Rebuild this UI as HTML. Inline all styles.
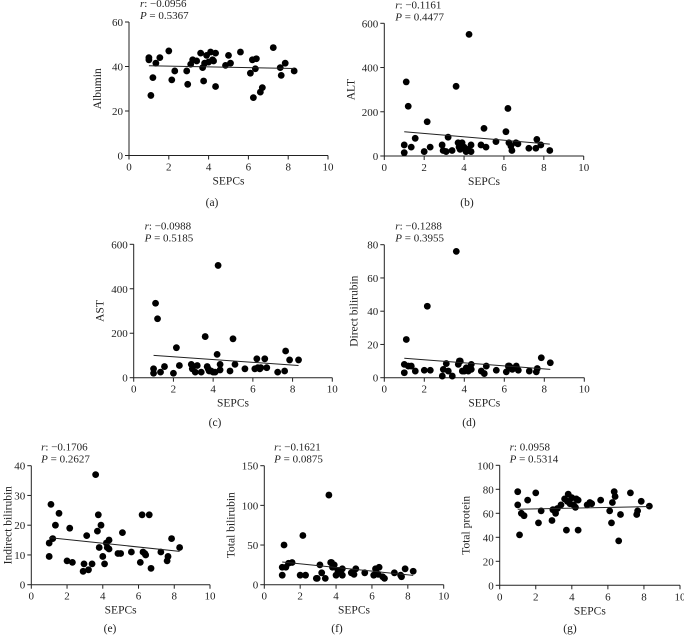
<!DOCTYPE html>
<html><head><meta charset="utf-8">
<style>
html,body{margin:0;padding:0;background:#fff;}
svg{display:block;font-family:"Liberation Serif",serif;}
</style></head>
<body>
<svg id="fig" width="684" height="636" viewBox="0 0 684 636" xmlns="http://www.w3.org/2000/svg"></svg>
<script>
const sepcs = [1.0,1.0,1.1,1.2,1.35,1.55,2.0,2.15,2.3,2.9,2.95,3.1,3.2,3.4,3.6,3.7,3.75,3.8,3.9,4.0,4.1,4.2,4.25,4.35,4.35,4.85,5.0,5.1,5.6,6.1,6.2,6.25,6.35,6.4,6.6,6.7,7.25,7.6,7.65,7.85,8.3];
const albumin = [44,43,27,35,41.5,44,47,34,38,38,32,41,43,42.5,46,39.5,33.5,41.5,45,42,46.5,43,42.5,46,31,40.5,45,41.5,46.5,37,43,26,39,43.5,28.5,30.5,48.5,39.5,36,41.5,38];
const alt = [50,15,335,225,40,80,20,155,40,50,25,20,85,25,315,60,40,30,60,40,20,30,550,50,20,50,125,40,65,110,215,60,45,25,60,55,35,35,75,50,25];
const ast = [40,20,335,265,25,50,20,135,55,60,40,25,55,25,185,50,40,30,30,25,25,105,505,60,35,30,175,60,40,40,85,45,40,45,85,45,25,30,120,80,80];
const directBili = [8,3,23,7,7,4,4.5,43,4.5,1,5,8.5,4,1,76,8,10,10,4,4,6,4,5,8,5,4,2.5,7,4.5,3.5,7,7,6,5,7,4.5,4,3.5,5.5,12,9];
const indirectBili = [14,9.5,27,15.5,20,24,8,19,7.5,4.5,7,16.5,5,7,37,18,23.5,12.5,20,9.5,7,14,12.5,15,12,10.5,10.5,17.5,11,7.5,23.5,11,10.5,10,23.5,5.5,11,8,9.5,15.5,12.5];
const totalBili = [22,12,50,22,27,28,12,62,12,8,8,25,15,8,113,28,28,22,25,12,18,18,15,20,12,15,13,20,15,12,20,15,13,22,10,8,15,12,10,20,17];
const totalProtein = [78,67,42,60,58,71,77,52,62,54,63,60,64,67,72,46,70,76,68,73,67,65,72,71,46,67,69,68,71,62,52,69,78,74,37,59,77,59,62,70,66];
const xTicks = [0,2,4,6,8,10];
const rLabels = ["\u22120.0956","\u22120.1161","\u22120.0988","\u22120.1288","\u22120.1706","\u22120.1621","0.0958"];
const pLabels = ["0.5367","0.4477","0.5185","0.3955","0.2627","0.0875","0.5314"];
const yTitles = ["Albumin","ALT","AST","Direct bilirubin","Indirect bilirubin","Total bilirubin","Total protein"];
const yTickSets = [[0,20,40,60],[0,200,400,600],[0,200,400,600],[0,20,40,60,80],[0,10,20,30,40],[0,50,100,150],[0,20,40,60,80,100]];
const series = [albumin,alt,ast,directBili,indirectBili,totalBili,totalProtein];
const captions = ["(a)","(b)","(c)","(d)","(e)","(f)","(g)"];
const keys = ["albumin","alt","ast","direct-bilirubin","indirect-bilirubin","total-bilirubin","total-protein"];

const layout = [
 [129,328,155.5,22,212,206,28],
 [384.3,583.7,156,23.3,467,206,30],
 [133.7,332.3,377.7,244.3,215,426,30],
 [384.3,584.3,377.7,244.7,469,426,27],
 [31.3,210,584.7,465.7,110,632,20],
 [264.3,443.7,584.7,465.7,337,632,30],
 [499.7,680,585.3,465.3,570,632,30]
];
const NS="http://www.w3.org/2000/svg";
const svg=document.getElementById('fig');
function mk(tag,attrs,parent){const e=document.createElementNS(NS,tag);for(const k in attrs)e.setAttribute(k,attrs[k]);(parent||svg).appendChild(e);return e;}

series.forEach((ys,i)=>{
  const [x0,x1,y0,yT,cx,cy,yo]=layout[i];
  const ticks=yTickSets[i];const ymax=ticks[ticks.length-1];
  const sx=v=>x0+(x1-x0)*v/10;
  const sy=v=>y0-(y0-yT)*v/ymax;
  const g=mk('g',{});
  
  
  const ya=mk('line',{x1:x0,y1:y0,x2:x0,y2:yT,stroke:'#222','stroke-width':1},g);
  
  
  const xa=mk('line',{x1:x0,y1:y0,x2:x1,y2:y0,stroke:'#222','stroke-width':1},g);
  
  
  ticks.forEach(t=>{
    mk('line',{x1:x0-4,y1:sy(t),x2:x0,y2:sy(t),stroke:'#222'},g);
    const tl=mk('text',{x:x0-6,y:sy(t)+4,'text-anchor':'end','font-size':11,fill:'#222'},g);
    tl.textContent=t;
    
    
  });
  xTicks.forEach(t=>{
    mk('line',{x1:sx(t),y1:y0,x2:sx(t),y2:y0+4,stroke:'#222'},g);
    const tl=mk('text',{x:sx(t),y:y0+15,'text-anchor':'middle','font-size':11,fill:'#222'},g);
    tl.textContent=t;
    
    
  });
  const xt=mk('text',{x:sx(5),y:y0+29,'text-anchor':'middle','font-size':11.5,fill:'#222'},g);
  xt.textContent='SEPCs';
  
  
  const ymid=(y0+yT)/2;
  const yt=mk('text',{x:0,y:0,'text-anchor':'middle','font-size':11.5,fill:'#222',transform:`translate(${x0-yo},${ymid}) rotate(-90)`},g);
  yt.textContent=yTitles[i];
  
  
  const st=mk('text',{x:sx(0.55),y:yT-15,'font-size':11,fill:'#222'},g);
  st.innerHTML='<tspan font-style="italic">r</tspan>: '+rLabels[i];
  
  
  const pt=mk('text',{x:sx(0.55),y:yT-3,'font-size':11,fill:'#222'},g);
  pt.innerHTML='<tspan font-style="italic">P</tspan> = '+pLabels[i];
  
  
  ys.forEach((v,j)=>{
    const c=mk('circle',{cx:sx(sepcs[j]),cy:sy(v),r:3.4,fill:'#000'},g);
    
    
  });
  const n=ys.length;let mx=0,my=0;
  for(let j=0;j<n;j++){mx+=sepcs[j];my+=ys[j];}mx/=n;my/=n;
  let sxy=0,sxx=0;for(let j=0;j<n;j++){sxy+=(sepcs[j]-mx)*(ys[j]-my);sxx+=(sepcs[j]-mx)**2;}
  const b=sxy/sxx,a=my-b*mx;
  const xmin=Math.min(...sepcs),xmax=Math.max(...sepcs);
  const rl=mk('line',{x1:sx(xmin),y1:sy(a+b*xmin),x2:sx(xmax),y2:sy(a+b*xmax),stroke:'#222','stroke-width':1},g);
  
  
  const cp=mk('text',{x:cx,y:cy,'text-anchor':'middle','font-size':11.5,fill:'#222'},g);
  cp.textContent=captions[i];
  
  
});
</script>
</body></html>
